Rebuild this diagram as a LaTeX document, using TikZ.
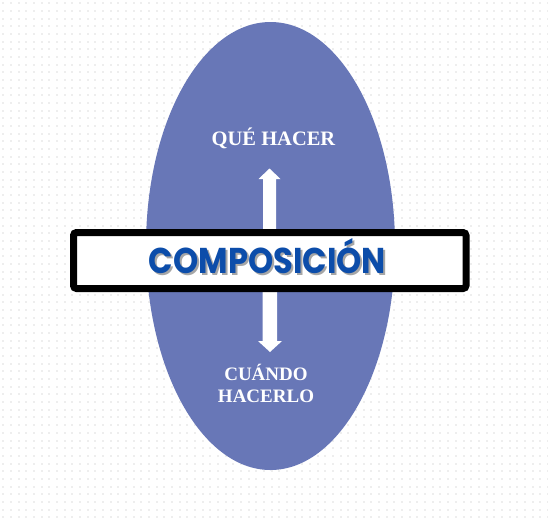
\documentclass[tikz,border=0pt]{standalone}
\usepackage{fontspec}
\setmainfont{Liberation Serif}
\newfontfamily\titlefont{Poppins}
\usepackage{graphicx}
\usetikzlibrary{shapes.geometric}
\definecolor{ellblue}{HTML}{6877B7}
\definecolor{titleblue}{HTML}{0C4DAA}
\definecolor{dotgray}{HTML}{EEEEEE}
\newcommand{\comptext}{\resizebox{237pt}{35pt}{\titlefont\bfseries COMPOSICIÓN}}
\tikzset{
  lbl/.style={text=white, font=\bfseries\fontsize{20.5}{21}\selectfont, align=center, inner sep=0pt},
  lbltwo/.style={text=white, font=\bfseries\fontsize{19}{21}\selectfont, align=center, inner sep=0pt},
  whitearrow/.style={fill=white, draw=none},
}
\begin{document}
\begin{tikzpicture}[x=1pt,y=-1pt]
\useasboundingbox (0,0) rectangle (548,523);
\fill[white] (0,0) rectangle (548,523);
% dot grid
\foreach \i in {0,...,71}{
  \foreach \j in {0,...,68}{
    \fill[dotgray] ({3.3+7.67*\i-1},{3.3+7.67*\j-1}) rectangle ++(2,2);
  }
}
% ellipse
\node[ellipse, fill=ellblue, minimum width=249, minimum height=448, inner sep=0pt, draw=none] (ell) at (270.5,246) {};
% arrows
\fill[whitearrow] (263,232) -- (263,179) -- (258.5,179) -- (269.5,168.5) -- (280.5,179) -- (276,179) -- (276,232) -- cycle;
\fill[whitearrow] (262.5,289) -- (262.5,341) -- (258,341) -- (270,352) -- (282,341) -- (277,341) -- (277,289) -- cycle;
% box
\node[draw=black, line width=7, fill=white, rounded corners=3, minimum width=392.5, minimum height=56, inner sep=0pt] (box) at (269.75,260.5) {};
\node[inner sep=0pt] (title) at (267.5,257.5) {\rlap{\hspace{2pt}\raisebox{-2pt}{\color{gray!70}\comptext}}{\color{titleblue}\comptext}};
% labels
\node[lbl, anchor=base] (que) at (273.5,145) {QUÉ HACER};
\node[lbltwo, anchor=base] (cuando) at (266,380) {CUÁNDO};
\node[lbltwo, anchor=base] (hacerlo) at (266,402) {HACERLO};
\end{tikzpicture}
\end{document}
